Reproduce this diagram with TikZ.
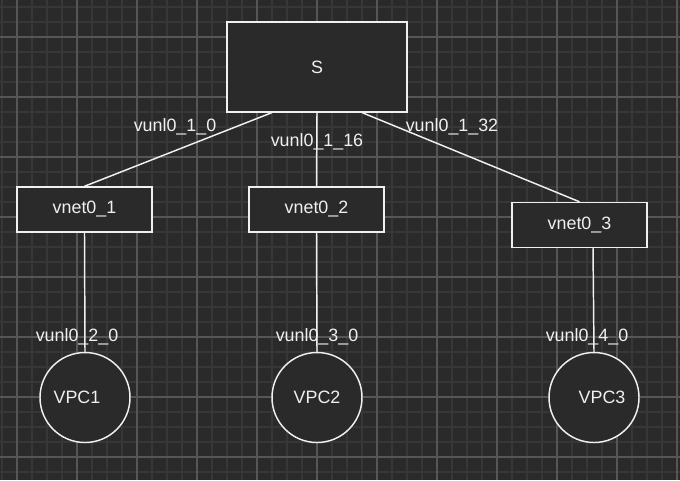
\documentclass[tikz,border=0pt]{standalone}
\usepackage{fontspec}
\setmainfont{Liberation Sans}
\usetikzlibrary{calc}
\definecolor{bg}{HTML}{2A2A2A}
\definecolor{gridminor}{HTML}{373737}
\definecolor{gridmajor}{HTML}{565656}
\definecolor{ink}{HTML}{F0F0F0}
\tikzset{
  minorline/.style={gridminor, line width=1.1pt},
  majorline/.style={gridmajor, line width=0.9pt},
  txt/.style={text=ink, font=\fontsize{13.4pt}{15pt}\selectfont, inner sep=0pt},
  boxnode/.style={draw=ink, fill=bg, line width=1.1pt, rectangle, txt},
  pcnode/.style={draw=ink, fill=bg, line width=1.1pt, circle, minimum size=67.5pt, inner sep=0pt},
  link/.style={draw=ink, line width=1.1pt},
  lbl/.style={txt}
}
\begin{document}
\begin{tikzpicture}[x=0.75pt,y=-0.75pt]
\fill[bg] (0,0) rectangle (680,480);
\useasboundingbox (0,0) rectangle (680,480);
\foreach \x in {2,17,...,677} \draw[minorline] (\x,0) -- (\x,480);
\foreach \y in {7,22,...,477} \draw[minorline] (0,\y) -- (680,\y);
\foreach \x in {17,77,...,677} \draw[majorline] (\x,0) -- (\x,480);
\foreach \y in {37,97,...,457} \draw[majorline] (0,\y) -- (680,\y);

\node[boxnode, minimum width=135pt, minimum height=67.5pt] (S) at (317,67) {S};
\node[boxnode, minimum width=101.25pt, minimum height=33.75pt] (v1) at (84.5,209.5) {vnet0\_1};
\node[boxnode, minimum width=101.25pt, minimum height=33.75pt] (v2) at (316.5,209.5) {vnet0\_2};
\node[boxnode, minimum width=101.25pt, minimum height=33.75pt] (v3) at (579.5,225) {vnet0\_3};
\node[pcnode, label={[txt, xshift=-6pt]center:VPC1}] (c1) at (85,397.5) {};
\node[pcnode, label={[txt]center:VPC2}] (c2) at (317,397.5) {};
\node[pcnode, label={[txt, xshift=6pt]center:VPC3}] (c3) at (594,397.5) {};

\draw[link] ($(S.south west)!0.25!(S.south east)$) -- (v1.north);
\draw[link] (S.south) -- (v2.north);
\draw[link] ($(S.south west)!0.75!(S.south east)$) -- (v3.north);
\draw[link] (v1.south) -- (c1.north);
\draw[link] (v2.south) -- (c2.north);
\draw[link] ($(v3.south)+(13.5,0)$) -- (c3.north);

\node[lbl] (l1) at (175,127) {vunl0\_1\_0};
\node[lbl] (l2) at (317,142) {vunl0\_1\_16};
\node[lbl] (l3) at (452,127) {vunl0\_1\_32};
\node[lbl] (l4) at (77,337) {vunl0\_2\_0};
\node[lbl] (l5) at (317,337) {vunl0\_3\_0};
\node[lbl] (l6) at (587,337) {vunl0\_4\_0};
\end{tikzpicture}
\end{document}
